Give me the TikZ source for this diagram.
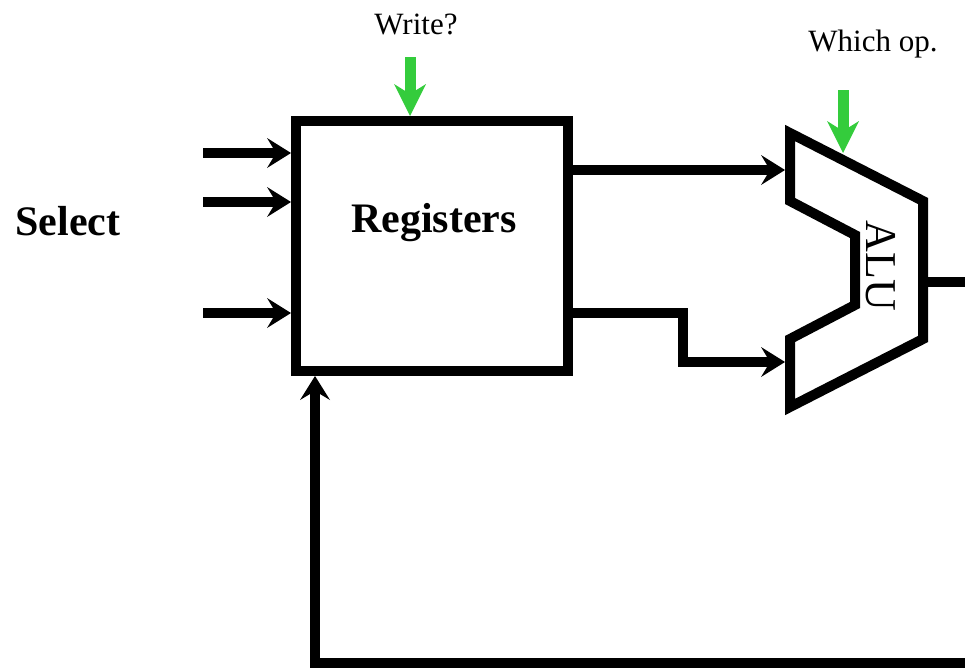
\documentclass[tikz,border=0pt]{standalone}
\usepackage{fontspec}
\setmainfont{Liberation Serif}
\usetikzlibrary{arrows.meta}
\definecolor{sig}{RGB}{52,204,60}
\begin{document}
\begin{tikzpicture}[x=1pt,y=-1pt,
  wire/.style={line width=10pt},
  arr/.style={wire,-{Stealth[length=24pt,width=30pt,inset=9pt,line width=0pt]}},
  ctl/.style={line width=11pt,draw=sig,-{Stealth[length=32pt,width=32pt,inset=10pt,line width=0pt]}},
  lbl/.style={anchor=base,inner sep=0pt,font=\fontsize{31}{37}\selectfont},
  blbl/.style={anchor=base,inner sep=0pt,font=\fontsize{42}{50}\selectfont\bfseries}]
\useasboundingbox (0,0) rectangle (965,669);
% Registers box
\node[draw,line width=10pt,minimum width=272pt,minimum height=250pt,inner sep=0pt] (reg) at (432,246) {};
\node[blbl] (regtxt) at (434,232) {Registers};
\node[blbl] (sel) at (68,235) {Select};
\node[lbl] (wr) at (416,35) {Write?};
\node[lbl] (op) at (873,52) {Which op.};
% ALU
\draw[wire] (790,133) coordinate (alua) -- (923,201) -- (923,339) -- (790,407) -- (790,339)
  -- (855,305) -- (855,235) -- (790,201) -- cycle;
\node[rotate=-90,inner sep=0pt,font=\fontsize{44}{50}\selectfont] (alutxt) at (881,266) {ALU};
\coordinate (aluin1) at (785,170);
\coordinate (aluin2) at (785,362);
\coordinate (aluout) at (923,282);
\coordinate (outend) at (965,282);
% inputs
\coordinate (in1) at (203,153);
\coordinate (in2) at (203,202);
\coordinate (in3) at (203,313);
\draw[arr] (in1) -- (in1 -| reg.west);
\draw[arr] (in2) -- (in2 -| reg.west);
\draw[arr] (in3) -- (in3 -| reg.west);
% register outputs
\draw[arr] (reg.east |- aluin1) -- (aluin1);
\coordinate (bend) at (683,313);
\draw[arr] (reg.east |- bend) -- (bend) |- (aluin2);
% ALU output
\draw[wire] (aluout) -- (outend);
% feedback
\coordinate (fbend) at (965,663);
\coordinate (fbturn) at (315,663);
\draw[arr] (fbend) -- (fbturn) -- (fbturn |- reg.south);
% control arrows
\coordinate (wrtop) at (410,57);
\draw[ctl] (wrtop) -- (wrtop |- reg.north);
\coordinate (optop) at (843,90);
\coordinate (optip) at (843,153);
\draw[ctl] (optop) -- (optip);
\end{tikzpicture}
\end{document}
